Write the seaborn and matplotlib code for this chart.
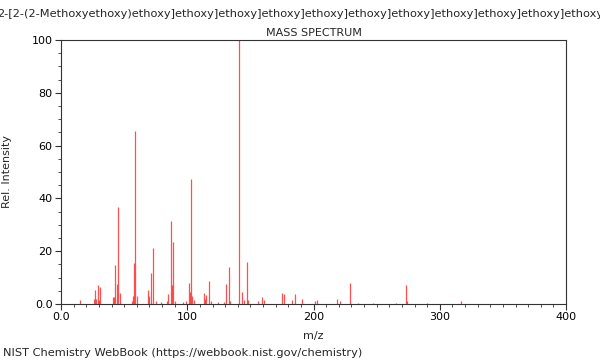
import matplotlib
matplotlib.use("Agg")
import matplotlib.pyplot as plt
import seaborn as sns
from matplotlib.ticker import MultipleLocator, FixedLocator, FixedFormatter

compound = "2-[2-(2-Methoxyethoxy)ethoxy]" + "ethoxy]" * 11 + "ethanol"
title = "MASS SPECTRUM"
footer = "NIST Chemistry WebBook (https://webbook.nist.gov/chemistry)"

mz = [15, 26, 27, 28, 29, 30, 31, 41, 42, 43, 44, 45, 47, 56, 57, 58, 59, 60,
      69, 70, 71, 73, 75, 79, 84, 85, 87, 88, 89, 90, 97, 99, 101, 102, 103,
      104, 105, 113, 114, 115, 117, 119, 124, 129, 131, 133, 134, 141, 143,
      145, 147, 148, 156, 159, 161, 175, 177, 183, 185, 191, 201, 203, 219,
      221, 229, 235, 247, 265, 273, 274, 290, 317]
intensity = [1.4, 2.0, 5.3, 2.0, 7.2, 1.5, 6.4, 2.8, 2.5, 14.8, 7.5, 36.9, 4.0,
             1.0, 3.0, 15.4, 65.5, 3.0, 5.3, 3.0, 11.6, 21.3, 1.0, 0.7, 1.0,
             3.8, 31.4, 7.2, 23.5, 1.0, 0.8, 1.3, 7.8, 4.7, 47.2, 3.0, 1.5,
             4.3, 2.0, 3.4, 8.7, 1.0, 0.6, 0.6, 7.7, 14.1, 1.0, 100.0, 4.7,
             1.5, 15.8, 1.5, 1.0, 2.5, 1.5, 4.2, 3.9, 1.7, 3.9, 1.8, 1.2, 1.7,
             1.8, 1.2, 7.9, 0.5, 0.4, 0.3, 7.3, 1.0, 0.3, 1.3]

x_ticks = [0, 100, 200, 300, 400]
x_labels = ["0.0", "100", "200", "300", "400"]
y_ticks = [0, 20, 40, 60, 80, 100]
y_labels = ["0.0", "20", "40", "60", "80", "100"]

sns.set_theme(style="ticks")
plt.rcParams["font.family"] = ["DejaVu Sans"]

fig = plt.figure(figsize=(6, 3.6), dpi=100)
ax = fig.add_axes([61 / 600, 1 - 304 / 360, 505 / 600, 264 / 360])

ax.vlines(mz, 0, intensity, color="#ff3030", linewidth=0.9, alpha=0.85)

ax.set_xlim(0, 400)
ax.set_ylim(0, 100)
ax.xaxis.set_major_locator(FixedLocator(x_ticks))
ax.xaxis.set_major_formatter(FixedFormatter(x_labels))
ax.yaxis.set_major_locator(FixedLocator(y_ticks))
ax.yaxis.set_major_formatter(FixedFormatter(y_labels))
ax.xaxis.set_minor_locator(MultipleLocator(10))
ax.yaxis.set_minor_locator(MultipleLocator(5))
ax.tick_params(which="major", length=4, width=0.8, labelsize=8, colors="#333333",
               labelcolor="black", pad=2)
ax.tick_params(which="minor", length=2, width=0.6, colors="#333333")
for s in ax.spines.values():
    s.set_color("#333333")
    s.set_linewidth(0.8)

ax.set_xlabel("m/z", fontsize=8, labelpad=6)
ax.set_ylabel("Rel. Intensity", fontsize=8)
ax.yaxis.set_label_coords(-0.098, 0.5)
ax.set_title(title, fontsize=8, pad=3)

fig.text(-0.004, 1 - 14 / 360, compound, fontsize=8.2, ha="left", va="center")
fig.text(0.005, 1 - 353 / 360, footer, fontsize=8.2, ha="left", va="center")

fig.savefig("out.png", dpi=100)
